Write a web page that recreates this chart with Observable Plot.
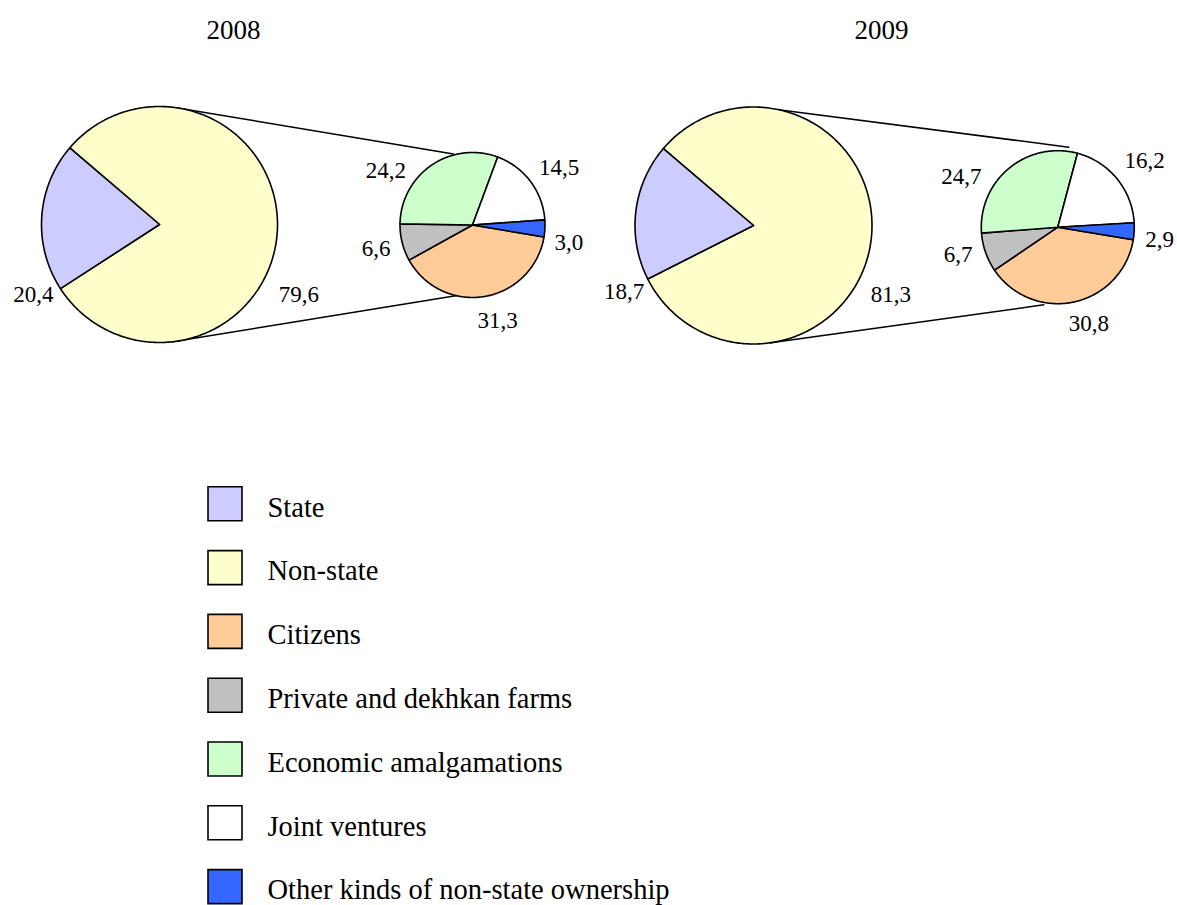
<!DOCTYPE html>
<html><head><meta charset="utf-8">
<script src="https://cdn.jsdelivr.net/npm/d3@7"></script>
<script src="https://cdn.jsdelivr.net/npm/@observablehq/plot@0.6"></script>
<style>body{margin:0;background:#fff}</style>
</head><body><div id="chart"></div>
<script>
// ---- data ----
const years = ["2008", "2009"];
const mainCategories = ["State", "Non-state"];
const subCategories = ["Citizens", "Private and dekhkan farms", "Economic amalgamations", "Joint ventures", "Other kinds of non-state ownership"];
const mainValues2008 = [20.4, 79.6];
const mainValues2009 = [18.7, 81.3];
const subValues2008 = [31.3, 6.6, 24.2, 14.5, 3.0];
const subValues2009 = [30.8, 6.7, 24.7, 16.2, 2.9];
const legendLabels = ["State", "Non-state", "Citizens", "Private and dekhkan farms", "Economic amalgamations", "Joint ventures", "Other kinds of non-state ownership"];
const colors = ["#CCCCFF", "#FFFFCC", "#FFCC99", "#C0C0C0", "#CCFFCC", "#FFFFFF", "#3366FF"];

// ---- layout (positions/sizes, not data) ----
const W = 1177, H = 905;
const FONT = "Liberation Serif, Times New Roman, serif";
const panels = [
  {year: "2008", main: mainValues2008, sub: subValues2008, titleX: 233, titleY: 30,
   big: {cx: 159, cy: 224, r: 118}, small: {cx: 472, cy: 224.5, r: 72.5},
   bigStart: 310.5, subStart: 99.5,
   conn: [[10.3, 118, 345, 73.5], [173.7, 118, 191.1, 71.5]],
   mainLab: [[240.8, 144.4], [116.6, 155.8]],
   subLab: [[165.3, 98.7], [256.4, 99.1], [302, 102], [56.3, 104.2], [100.1, 97.8]]},
  {year: "2009", main: mainValues2009, sub: subValues2009, titleX: 881, titleY: 30,
   big: {cx: 753, cy: 225, r: 118.5}, small: {cx: 1057.3, cy: 226.7, r: 76.5},
   bigStart: 310.5, subStart: 99.5,
   conn: [[13.1, 118.5, 7.8, 80.8], [171.6, 118.5, 190.2, 78.9]],
   mainLab: [[242.8, 145.4], [116.8, 153.9]],
   subLab: [[162.2, 101.5], [254.8, 103.2], [297.8, 109.1], [52.7, 109.2], [96.8, 102.6]]}
];
const legend = {x: 224.5, textX: 267, top: 503.3, step: 63.8, size: 34};

const rad = Math.PI / 180;
const polar = (c, a, d) => [c.cx + d * Math.sin(a * rad), c.cy - d * Math.cos(a * rad)];

function slices(c, values, cats, start, key) {
  const total = d3.sum(values);
  const rows = [];
  let a0 = start;
  values.forEach((v, i) => {
    const a1 = a0 + v / total * 360;
    const id = key + "-" + i;
    const n = Math.max(2, Math.ceil((a1 - a0) / 0.75));
    rows.push({id, cat: cats[i], x: c.cx, y: c.cy});
    for (let k = 0; k <= n; k++) {
      const [x, y] = polar(c, a0 + (a1 - a0) * k / n, c.r);
      rows.push({id, cat: cats[i], x, y});
    }
    rows.push({id, cat: cats[i], x: c.cx, y: c.cy});
    a0 = a1;
  });
  return rows;
}

const sliceRows = [], connRows = [], labelRows = [], titleRows = [];
const fmt = v => v.toFixed(1).replace(".", ",");
panels.forEach(p => {
  // big pie: Non-state starts at bigStart, then State
  const bigVals = [p.main[1], p.main[0]];
  const bigCats = [mainCategories[1], mainCategories[0]];
  sliceRows.push(...slices(p.big, bigVals, bigCats, p.bigStart, p.year + "big"));
  sliceRows.push(...slices(p.small, p.sub, subCategories, p.subStart, p.year + "small"));
  p.conn.forEach((cn, i) => {
    const [x1, y1] = polar(p.big, cn[0], cn[1]);
    const [x2, y2] = polar(p.small, cn[2], cn[3]);
    connRows.push({id: p.year + "c" + i, x: x1, y: y1}, {id: p.year + "c" + i, x: x2, y: y2});
  });
  p.main.forEach((v, i) => {
    const [x, y] = polar(p.big, p.mainLab[i][0], p.mainLab[i][1]);
    labelRows.push({x, y, text: fmt(v)});
  });
  p.sub.forEach((v, i) => {
    const [x, y] = polar(p.small, p.subLab[i][0], p.subLab[i][1]);
    labelRows.push({x, y, text: fmt(v)});
  });
  titleRows.push({x: p.titleX, y: p.titleY, text: p.year});
});

const legendRows = legendLabels.map((label, i) => ({label, x: legend.x, tx: legend.textX, y: legend.top + i * legend.step}));

const chart = Plot.plot({
  width: W, height: H, margin: 0,
  style: {background: "#fff"},
  x: {domain: [0, W], range: [0, W], axis: null},
  y: {domain: [0, H], range: [0, H], axis: null},
  color: {domain: legendLabels, range: colors},
  marks: [
    Plot.line(connRows, {x: "x", y: "y", z: "id", stroke: "black", strokeWidth: 1.5}),
    Plot.line(sliceRows, {x: "x", y: "y", z: "id", fill: "cat", stroke: "black", strokeWidth: 1.6, strokeLinejoin: "round"}),
    Plot.text(labelRows, {x: "x", y: "y", text: "text", fontSize: 23, fontFamily: FONT, fill: "black"}),
    Plot.text(titleRows, {x: "x", y: "y", text: "text", fontSize: 27, fontFamily: FONT, fill: "black"}),
    Plot.dot(legendRows, {x: "x", y: "y", symbol: "square", r: legend.size / Math.sqrt(Math.PI), fill: "label", stroke: "black", strokeWidth: 1.6}),
    Plot.text(legendRows, {x: "tx", y: d => d.y + 3.7, text: "label", textAnchor: "start", fontSize: 28.5, fontFamily: FONT, fill: "black"})
  ]
});
document.getElementById("chart").appendChild(chart);
</script>
</body></html>
